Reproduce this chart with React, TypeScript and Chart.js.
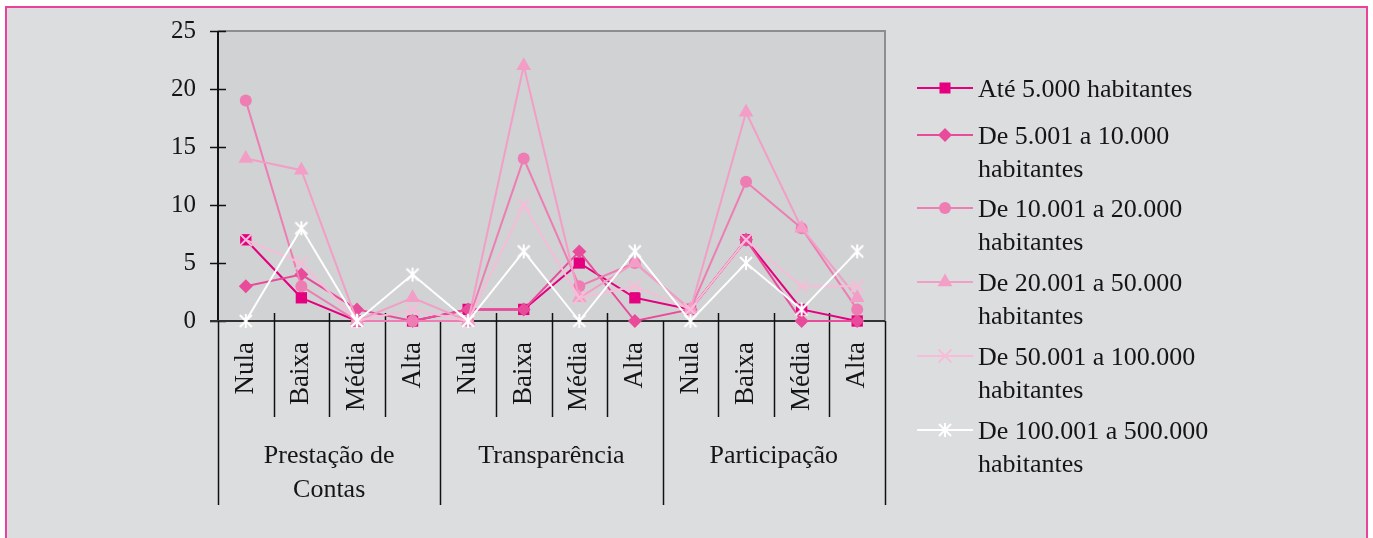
import React, { useEffect, useRef } from "react";
import { Chart, registerables } from "chart.js";

Chart.register(...registerables);

// ---------- data ----------
const levels = ["Nula", "Baixa", "Média", "Alta"];
const groupNames = [["Prestação de", "Contas"], ["Transparência"], ["Participação"]];
const categories = groupNames.flatMap(() => levels);

const seriesNames = [
  ["Até 5.000 habitantes"],
  ["De 5.001 a 10.000", "habitantes"],
  ["De 10.001 a 20.000", "habitantes"],
  ["De 20.001 a 50.000", "habitantes"],
  ["De 50.001 a 100.000", "habitantes"],
  ["De 100.001 a 500.000", "habitantes"],
];

const ate5000 = [7, 2, 0, 0, 1, 1, 5, 2, 1, 7, 1, 0];
const de5a10 = [3, 4, 1, 0, 1, 1, 6, 0, 1, 7, 0, 0];
const de10a20 = [19, 3, 0, 0, 0, 14, 3, 5, 1, 12, 8, 1];
const de20a50 = [14, 13, 0, 2, 0, 22, 2, 5, 1, 18, 8, 2];
const de50a100 = [7, 5, 0, 1, 0, 10, 2, 3, 1, 7, 3, 3];
const de100a500 = [0, 8, 0, 4, 0, 6, 0, 6, 0, 5, 1, 6];
const seriesValues = [ate5000, de5a10, de10a20, de20a50, de50a100, de100a500];

const yMin = 0;
const yMax = 25;
const yStep = 5;

// ---------- styles ----------
const FONT = '"Liberation Serif", "Times New Roman", serif';
const TEXT = "#151515";
const colors = ["#E4007F", "#E94B9B", "#EE7DB3", "#F39EC6", "#F7BCD8", "#FFFFFF"];
const markerStyles = ["rect", "rectRot", "circle", "triangle", "crossRot", "star"];
const markerRadius = [8, 7, 6, 8.5, 9, 7];

function makeStar(color: string): HTMLCanvasElement {
  const c = document.createElement("canvas");
  c.width = 16;
  c.height = 16;
  const g = c.getContext("2d")!;
  g.strokeStyle = color;
  g.lineWidth = 2;
  g.beginPath();
  g.moveTo(2, 2); g.lineTo(14, 14);
  g.moveTo(14, 2); g.lineTo(2, 14);
  g.moveTo(8, 1); g.lineTo(8, 15);
  g.stroke();
  return c;
}

function drawMarker(ctx: CanvasRenderingContext2D, i: number, x: number, y: number, star: HTMLCanvasElement) {
  const col = colors[i];
  ctx.save();
  ctx.fillStyle = col;
  ctx.strokeStyle = col;
  ctx.lineWidth = 2;
  const st = markerStyles[i];
  if (st === "rect") {
    ctx.fillRect(x - 5.5, y - 5.5, 11, 11);
  } else if (st === "rectRot") {
    ctx.beginPath();
    ctx.moveTo(x - 7, y); ctx.lineTo(x, y - 7); ctx.lineTo(x + 7, y); ctx.lineTo(x, y + 7);
    ctx.closePath(); ctx.fill();
  } else if (st === "circle") {
    ctx.beginPath(); ctx.arc(x, y, 6, 0, Math.PI * 2); ctx.fill();
  } else if (st === "triangle") {
    const r = 8.5;
    ctx.beginPath();
    ctx.moveTo(x, y - r); ctx.lineTo(x + 0.866 * r, y + 0.5 * r); ctx.lineTo(x - 0.866 * r, y + 0.5 * r);
    ctx.closePath(); ctx.fill();
  } else if (st === "crossRot") {
    ctx.beginPath();
    ctx.moveTo(x - 6.5, y - 6.5); ctx.lineTo(x + 6.5, y + 6.5);
    ctx.moveTo(x + 6.5, y - 6.5); ctx.lineTo(x - 6.5, y + 6.5);
    ctx.stroke();
  } else {
    ctx.drawImage(star, x - 8, y - 8);
  }
  ctx.restore();
}

export default function App() {
  const ref = useRef<HTMLCanvasElement | null>(null);

  useEffect(() => {
    if (!ref.current) return;
    const star = makeStar("#FFFFFF");

    const decor = {
      id: "decor",
      beforeDraw(chart: any) {
        const { ctx, chartArea: a } = chart;
        ctx.save();
        ctx.fillStyle = "#FFFFFF";
        ctx.fillRect(0, 0, chart.width, chart.height);
        ctx.fillStyle = "#DCDDDF";
        ctx.fillRect(6, 7, 1361, 540);
        ctx.strokeStyle = "#E8429B";
        ctx.lineWidth = 2;
        ctx.strokeRect(6, 7, 1361, 545);
        ctx.fillStyle = "#D1D2D4";
        ctx.fillRect(a.left, a.top, a.right - a.left, a.bottom - a.top);
        ctx.restore();
      },
      beforeDatasetsDraw(chart: any) {
        const { ctx, chartArea: a, scales } = chart;
        const x = scales.x;
        const y = scales.y;
        ctx.save();
        // top & right border
        ctx.strokeStyle = "#8E8E8E";
        ctx.lineWidth = 2;
        ctx.beginPath();
        ctx.moveTo(a.left, a.top); ctx.lineTo(a.right, a.top); ctx.lineTo(a.right, a.bottom);
        ctx.stroke();
        // y axis
        ctx.strokeStyle = "#111111";
        ctx.beginPath();
        ctx.moveTo(a.left, a.top); ctx.lineTo(a.left, a.bottom);
        ctx.stroke();
        ctx.lineWidth = 1.5;
        for (let v = yMin; v <= yMax; v += yStep) {
          const py = Math.round(y.getPixelForValue(v)) + 0.5;
          ctx.beginPath(); ctx.moveTo(a.left - 8, py); ctx.lineTo(a.left + 8, py); ctx.stroke();
        }
        // x axis
        ctx.strokeStyle = "#333333";
        ctx.lineWidth = 2;
        ctx.beginPath(); ctx.moveTo(a.left - 8, a.bottom); ctx.lineTo(a.right, a.bottom); ctx.stroke();
        // category separators
        ctx.strokeStyle = "#111111";
        ctx.lineWidth = 1.5;
        const n = categories.length;
        const w = (x.getPixelForValue(1) - x.getPixelForValue(0));
        for (let i = 0; i <= n; i++) {
          const px = Math.round(x.getPixelForValue(0) - w / 2 + i * w) + 0.5;
          const isGroup = i % levels.length === 0;
          ctx.beginPath();
          ctx.moveTo(px, isGroup ? a.bottom : a.bottom - 8);
          ctx.lineTo(px, isGroup ? 505 : 417);
          ctx.stroke();
        }
        // group labels
        ctx.fillStyle = TEXT;
        ctx.font = `26px ${FONT}`;
        ctx.textAlign = "center";
        ctx.textBaseline = "alphabetic";
        groupNames.forEach((lines, g) => {
          const cx = (x.getPixelForValue(g * 4) + x.getPixelForValue(g * 4 + 3)) / 2;
          lines.forEach((t, k) => ctx.fillText(t, cx, 463 + k * 34));
        });
        ctx.restore();
      },
      afterDraw(chart: any) {
        const { ctx } = chart;
        ctx.save();
        const centers = [88, 135, 208, 282, 356, 430];
        seriesNames.forEach((lines, i) => {
          const cy = centers[i];
          ctx.strokeStyle = colors[i];
          ctx.lineWidth = 2;
          ctx.beginPath(); ctx.moveTo(917, cy); ctx.lineTo(973, cy); ctx.stroke();
          drawMarker(ctx, i, 945, cy, star);
          ctx.fillStyle = TEXT;
          ctx.font = `26px ${FONT}`;
          ctx.textAlign = "left";
          ctx.textBaseline = "alphabetic";
          lines.forEach((t, k) => ctx.fillText(t, 978, cy + 9 + k * 33));
        });
        ctx.restore();
      },
    };

    const n = seriesValues.length;
    const chart = new Chart(ref.current, {
      type: "line",
      data: {
        labels: categories,
        datasets: seriesValues.map((vals, i) => ({
          label: seriesNames[i].join(" "),
          data: vals,
          borderColor: colors[i],
          backgroundColor: colors[i],
          pointBackgroundColor: colors[i],
          pointBorderColor: colors[i],
          borderWidth: 2,
          pointBorderWidth: markerStyles[i] === "crossRot" ? 2 : 0,
          pointStyle: (markerStyles[i] === "star" ? star : markerStyles[i]) as any,
          pointRadius: markerRadius[i],
          pointHoverRadius: markerRadius[i],
          tension: 0,
          fill: false,
          clip: false as any,
          order: n - 1 - i,
        })),
      },
      options: {
        responsive: false,
        animation: false,
        events: [],
        layout: { padding: { top: 31, right: 488, left: 0, bottom: 0 } },
        plugins: {
          legend: { display: false },
          tooltip: { enabled: false },
          title: { display: false },
        },
        scales: {
          x: {
            type: "category",
            offset: true,
            grid: { display: false, drawTicks: false },
            border: { display: false },
            ticks: {
              autoSkip: false,
              minRotation: 90,
              maxRotation: 90,
              padding: 21,
              color: TEXT,
              font: { family: FONT, size: 27 },
            },
            afterFit: (s: any) => { s.height = 217; s.paddingLeft = 0; s.paddingRight = 0; },
          },
          y: {
            min: yMin,
            max: yMax,
            grid: { display: false, drawTicks: false },
            border: { display: false },
            ticks: {
              stepSize: yStep,
              padding: 22,
              color: TEXT,
              font: { family: FONT, size: 25 },
            },
            afterFit: (s: any) => { s.width = 218; s.paddingTop = 0; s.paddingBottom = 0; },
          },
        },
      },
      plugins: [decor],
    });
    return () => chart.destroy();
  }, []);

  return (
    <div style={{ position: "absolute", left: 0, top: 0, width: 1373, height: 538 }}>
      <canvas ref={ref} width={1373} height={538} style={{ display: "block" }} />
    </div>
  );
}
